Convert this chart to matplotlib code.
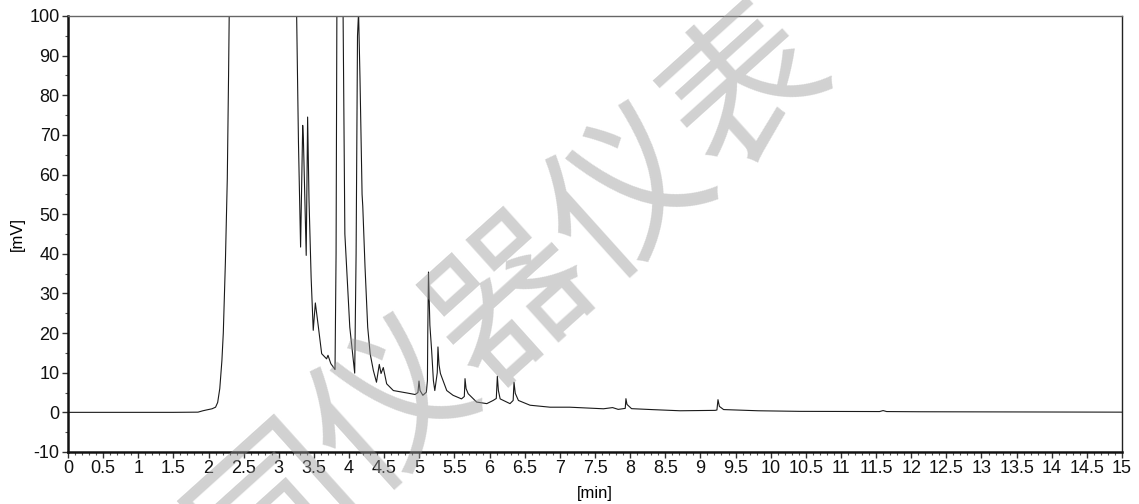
import matplotlib
matplotlib.use('Agg')
import matplotlib.pyplot as plt
from matplotlib.ticker import MultipleLocator

# 字体设置
plt.rcParams['font.family'] = ['Liberation Sans', 'DejaVu Sans']
plt.rcParams['axes.unicode_minus'] = False  # 负号用普通短横

# 色谱图数据（从图上读取的点） 时间 min / 信号 mV
t = [0.0, 1.5, 1.85, 1.92, 1.97, 2.05, 2.1, 2.13, 2.16, 2.19, 2.21, 2.24, 2.267, 2.285, 2.30,
     2.35, 2.6, 3.0, 3.2, 3.25, 3.27, 3.28, 3.31, 3.34, 3.35, 3.39, 3.41, 3.43, 3.46, 3.49,
     3.52, 3.56, 3.61, 3.68, 3.70, 3.74, 3.80, 3.815, 3.83, 3.87, 3.90, 3.915, 3.94, 4.01,
     4.08, 4.10, 4.12, 4.135, 4.155, 4.18, 4.185, 4.195, 4.227, 4.265, 4.30, 4.345, 4.39,
     4.43, 4.455, 4.487, 4.535, 4.63, 4.82, 4.94, 4.98, 4.995, 5.01, 5.05, 5.10, 5.115,
     5.12, 5.13, 5.15, 5.175, 5.20, 5.22, 5.255, 5.265, 5.28, 5.30, 5.39, 5.48, 5.60, 5.64,
     5.65, 5.665, 5.695, 5.815, 5.96, 6.05, 6.095, 6.11, 6.125, 6.15, 6.29, 6.335, 6.347,
     6.365, 6.41, 6.575, 6.86, 7.14, 7.62, 7.75, 7.83, 7.93, 7.94, 7.955, 8.02, 8.33, 8.71,
     9.21, 9.235, 9.25, 9.27, 9.33, 9.82, 10.42, 11.55, 11.6, 11.65, 12.13, 15.0]
mv = [0.0, 0.0, 0.05, 0.4, 0.6, 0.9, 1.3, 2.5, 6, 13, 20, 38, 59, 85, 110,
      160, 250, 250, 160, 105, 80, 67.8, 41.7, 72.4, 69, 39.6, 74.5, 53.5, 34, 20.7,
      27.6, 22, 14.8, 13.5, 14.4, 12.3, 10.8, 40, 120, 200, 130, 100, 45, 21.5,
      9.9, 40, 95, 101, 84.6, 60, 55, 52, 36.7, 21.5, 14.8, 10.6, 7.6,
      12.1, 9.8, 11.3, 7.2, 5.5, 4.9, 4.5, 5.0, 7.9, 5.5, 4.3, 5.1, 8,
      20, 35.4, 22, 15.6, 8, 5.5, 10, 16.5, 12, 9.8, 5.5, 4.3, 3.4, 4,
      8.5, 6, 4.7, 2.6, 2.2, 3.0, 3.5, 9.1, 5.5, 3.4, 2.2, 3, 7.6,
      4.8, 3.0, 1.8, 1.3, 1.3, 0.9, 1.2, 0.75, 1.0, 3.45, 2.0, 0.93, 0.68, 0.4,
      0.5, 0.6, 3.2, 1.5, 0.7, 0.4, 0.25, 0.2, 0.45, 0.2, 0.15, 0.05]

# 水印文字
watermark = '同仪器仪表'

fig = plt.figure(figsize=(11.39, 5.04), dpi=100)
ax = fig.add_axes([0.0597, 0.1032, 0.9254, 0.8651])

ax.plot(t, mv, color='#1a1a1a', linewidth=0.8)

ax.set_xlim(0, 15)
ax.set_ylim(-10, 100)
ax.xaxis.set_major_locator(MultipleLocator(0.5))
ax.xaxis.set_minor_locator(MultipleLocator(0.1))
ax.yaxis.set_major_locator(MultipleLocator(10))
ax.yaxis.set_minor_locator(MultipleLocator(5))
ax.xaxis.set_major_formatter(plt.FuncFormatter(lambda v, p: f'{v:g}'))

ax.tick_params(axis='both', which='major', labelsize=13, length=4, width=1,
               colors='#333333', labelcolor='#111111', pad=2)
ax.tick_params(axis='both', which='minor', length=2.5, width=0.8, colors='#555555')

# 左边和下边粗线
for s in ['left', 'bottom']:
    ax.spines[s].set_linewidth(1.8)
    ax.spines[s].set_color('#111111')
ax.spines['top'].set_linewidth(1.0)
ax.spines['top'].set_color('#666666')
ax.spines['right'].set_linewidth(1.0)
ax.spines['right'].set_color('#222222')

ax.set_xlabel('[min]', fontsize=12, labelpad=6)
ax.set_ylabel('[mV]', fontsize=12, labelpad=3)

# 斜的灰色水印
fig.text(0.4478, 0.414, watermark, fontsize=114, family=['Noto Sans CJK SC', 'DejaVu Sans'],
         color='#9a9a9a', alpha=0.45, rotation=42, ha='center', va='center',
         rotation_mode='anchor')

fig.savefig('out.png', dpi=100)
